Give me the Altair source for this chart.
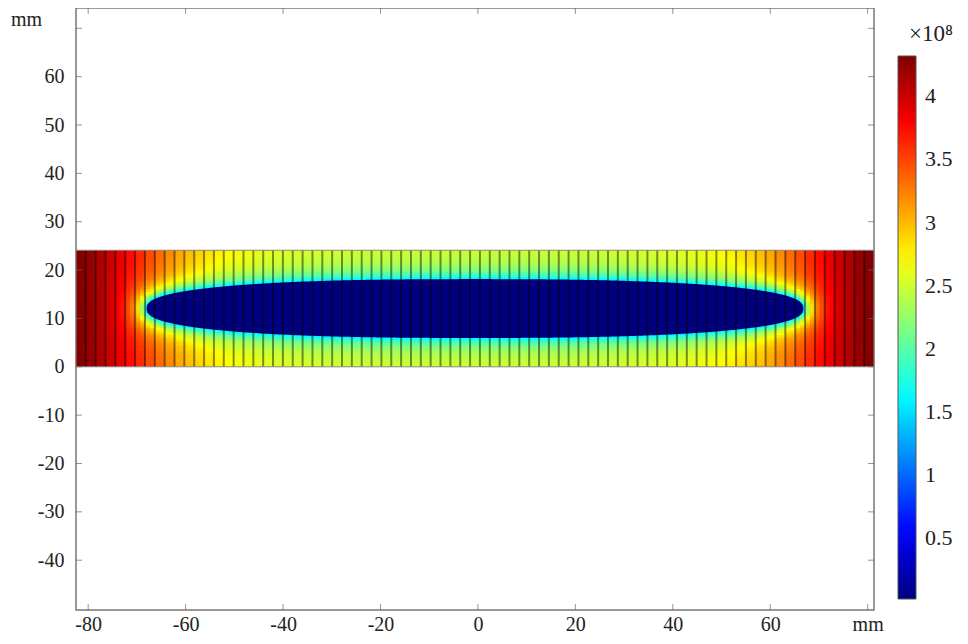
import altair as alt
import numpy as np
import pandas as pd

# ---------------- values ----------------
X_DOMAIN = [-82.5, 81.3]          # mm
Y_DOMAIN = [-50.3, 74.2]          # mm
BAR_X = [-82.5, 81.3]             # coloured block, x extent (mm)
BAR_Y = [0.0, 24.1]               # coloured block, y extent (mm)
N_STRIPS = 81                     # number of vertical strips (mesh lines)

# field value (x1e8) at the block edge, one per strip, left to right
EDGE_VALUES = [
    4.30, 4.22, 4.12, 4.00, 3.88, 3.75, 3.62, 3.48, 3.35, 3.22,
    3.10, 3.00, 2.92, 2.85, 2.79, 2.74, 2.70, 2.67, 2.64, 2.62,
    2.60, 2.59, 2.58, 2.57, 2.56, 2.55, 2.55, 2.54, 2.54, 2.53,
    2.53, 2.53, 2.53, 2.53, 2.53, 2.53, 2.53, 2.53, 2.53, 2.53,
    2.53,
    2.53, 2.53, 2.53, 2.53, 2.53, 2.53, 2.53, 2.53, 2.53, 2.53,
    2.53, 2.54, 2.54, 2.55, 2.55, 2.56, 2.57, 2.58, 2.59, 2.60,
    2.62, 2.64, 2.67, 2.70, 2.74, 2.79, 2.85, 2.92, 3.00, 3.10,
    3.22, 3.35, 3.48, 3.62, 3.75, 3.88, 4.00, 4.12, 4.22, 4.30,
]

HOLE_X = [-68.0, 66.8]            # elongated hole, x extent (mm)
HOLE_Y = [5.96, 18.13]            # hole, y extent (mm)
HOLE_EXP = 2.5                    # superellipse exponent of the hole outline
RIM_VALUE = 1.55                  # value on the hole rim (x1e8)
DECAY_MM = 1.9                    # distance over which the rim dip fades

CBAR_RANGE = [0.016, 4.32]
CBAR_TICKS = [0.5, 1, 1.5, 2, 2.5, 3, 3.5, 4]
X_TICKS = [-80, -60, -40, -20, 0, 20, 40, 60, 80]
Y_LABELS = [-40, -30, -20, -10, 0, 10, 20, 30, 40, 50, 60]
Y_TICKS = [-40, -30, -20, -10, 0, 10, 20, 30, 40, 50, 60, 70]
JET = ["#00007f", "#0000ff", "#007fff", "#00ffff", "#7fff7f",
       "#ffff00", "#ff7f00", "#ff0000", "#7f0000"]

FONT = "Liberation Serif"
W, H = 798, 602

# ---------------- build tables ----------------
xc = (HOLE_X[0] + HOLE_X[1]) / 2
a = (HOLE_X[1] - HOLE_X[0]) / 2
yc = (HOLE_Y[0] + HOLE_Y[1]) / 2
b = (HOLE_Y[1] - HOLE_Y[0]) / 2
n = HOLE_EXP


def outline_pts(t):
    c, s = np.cos(t), np.sin(t)
    return (xc + a * np.sign(c) * np.abs(c) ** (2 / n),
            yc + b * np.sign(s) * np.abs(s) ** (2 / n))


bx, by = outline_pts(np.linspace(0, 2 * np.pi, 2881))

edges = np.linspace(BAR_X[0], BAR_X[1], N_STRIPS + 1)
yedges = np.linspace(BAR_Y[0], BAR_Y[1], 49)
rows = []
for k in range(N_STRIPS):
    base = EDGE_VALUES[k]
    xs = np.linspace(edges[k], edges[k + 1], 3)
    for i in range(2):
        x0, x1 = xs[i], xs[i + 1]
        cx = (x0 + x1) / 2
        for j in range(len(yedges) - 1):
            y0, y1 = yedges[j], yedges[j + 1]
            cy = (y0 + y1) / 2
            inside = (abs(cx - xc) / a) ** n + (abs(cy - yc) / b) ** n <= 1
            if inside:
                v = RIM_VALUE
            else:
                d = np.min(np.hypot(bx - cx, by - cy))
                v = base - (base - RIM_VALUE) * np.exp(-d / DECAY_MM)
            rows.append({"x": x0, "x2": min(x1 + 0.2, BAR_X[1]),
                         "y": y0, "y2": min(y1 + 0.15, BAR_Y[1]), "v": float(v)})
cells = pd.DataFrame(rows)

hx, hy = outline_pts(np.linspace(0, np.pi, 721))
hole = pd.DataFrame({"x": hx, "hi": hy, "lo": 2 * yc - hy}).sort_values("x")

lines = pd.DataFrame({"x": edges[1:-1], "y": BAR_Y[0], "y2": BAR_Y[1]})
outline = pd.DataFrame({"x": [BAR_X[0]], "x2": [BAR_X[1]], "y": [BAR_Y[0]], "y2": [BAR_Y[1]]})
xt = pd.DataFrame({"x": X_TICKS})
yt = pd.DataFrame({"y": Y_TICKS})

stops = list(np.linspace(CBAR_RANGE[0], CBAR_RANGE[1], len(JET)))

xs_ = alt.Scale(domain=X_DOMAIN, nice=False, zero=False)
ys_ = alt.Scale(domain=Y_DOMAIN, nice=False, zero=False)
x_axis = alt.Axis(values=X_TICKS, title=None,
                  labelExpr="datum.value == 80 ? 'mm' : replace(datum.label, '\u2212', '-')",
                  labelPadding=4, labelFlush=False)
y_axis = alt.Axis(values=Y_LABELS, title="mm", titleAngle=0, titleX=-50, titleY=1,
                  titleAlign="center", titleBaseline="top", labelPadding=12,
                  labelExpr="replace(datum.label, '\u2212', '-')")

field = alt.Chart(cells).mark_rect(strokeWidth=0).encode(
    x=alt.X("x:Q", scale=xs_, axis=x_axis),
    x2="x2:Q",
    y=alt.Y("y:Q", scale=ys_, axis=y_axis),
    y2="y2:Q",
    color=alt.Color("v:Q", scale=alt.Scale(domain=stops, range=JET, interpolate="rgb"),
                    legend=alt.Legend(
                        orient="none", legendX=822, legendY=15, direction="vertical",
                        gradientLength=543, gradientThickness=18, values=CBAR_TICKS,
                        format="~g", title="×10⁸", titleAnchor="end", titlePadding=10,
                        titleFont=FONT, titleFontSize=23, titleFontWeight="normal",
                        titleColor="#222", labelFont=FONT, labelFontSize=22,
                        labelColor="#222", labelOffset=9,
                        gradientStrokeColor="#555", gradientStrokeWidth=1)),
)

hole_area = alt.Chart(hole).mark_area(color=JET[0], interpolate="linear").encode(
    x=alt.X("x:Q", scale=xs_, axis=x_axis),
    y=alt.Y("lo:Q", scale=ys_, axis=y_axis),
    y2="hi:Q",
)

strip_lines = alt.Chart(lines).mark_rule(color="black", opacity=0.45, strokeWidth=2).encode(
    x=alt.X("x:Q", scale=xs_, axis=x_axis),
    y=alt.Y("y:Q", scale=ys_, axis=y_axis),
    y2="y2:Q",
)

frame = alt.Chart(outline).mark_rect(fillOpacity=0, stroke="#888", strokeWidth=1).encode(
    x=alt.X("x:Q", scale=xs_, axis=x_axis), x2="x2:Q",
    y=alt.Y("y:Q", scale=ys_, axis=y_axis), y2="y2:Q",
)

tk = dict(color="#666", thickness=1, size=6)
tick_b = alt.Chart(xt).mark_tick(orient="vertical", **tk).encode(
    x=alt.X("x:Q", scale=xs_, axis=x_axis), y=alt.value(H - 3))
tick_t = alt.Chart(xt).mark_tick(orient="vertical", **tk).encode(
    x=alt.X("x:Q", scale=xs_, axis=x_axis), y=alt.value(3))
tick_l = alt.Chart(yt).mark_tick(orient="horizontal", **tk).encode(
    y=alt.Y("y:Q", scale=ys_, axis=y_axis), x=alt.value(3))
tick_r = alt.Chart(yt).mark_tick(orient="horizontal", **tk).encode(
    y=alt.Y("y:Q", scale=ys_, axis=y_axis), x=alt.value(W - 3))

chart = alt.layer(field, hole_area, strip_lines, frame, tick_b, tick_t, tick_l, tick_r).properties(
    width=W, height=H,
    autosize=alt.AutoSizeParams(type="none"),
    padding={"left": 68, "top": 0, "right": 86, "bottom": 24},
).configure_view(
    stroke="#777", strokeWidth=1.5,
).configure_axis(
    labelFont=FONT, labelFontSize=20, labelColor="#222",
    titleFont=FONT, titleFontSize=20, titleFontWeight="normal", titleColor="#222",
    grid=False, domain=False, ticks=False,
)

chart.save("out.html", embed_options={"renderer": "svg", "actions": False})
